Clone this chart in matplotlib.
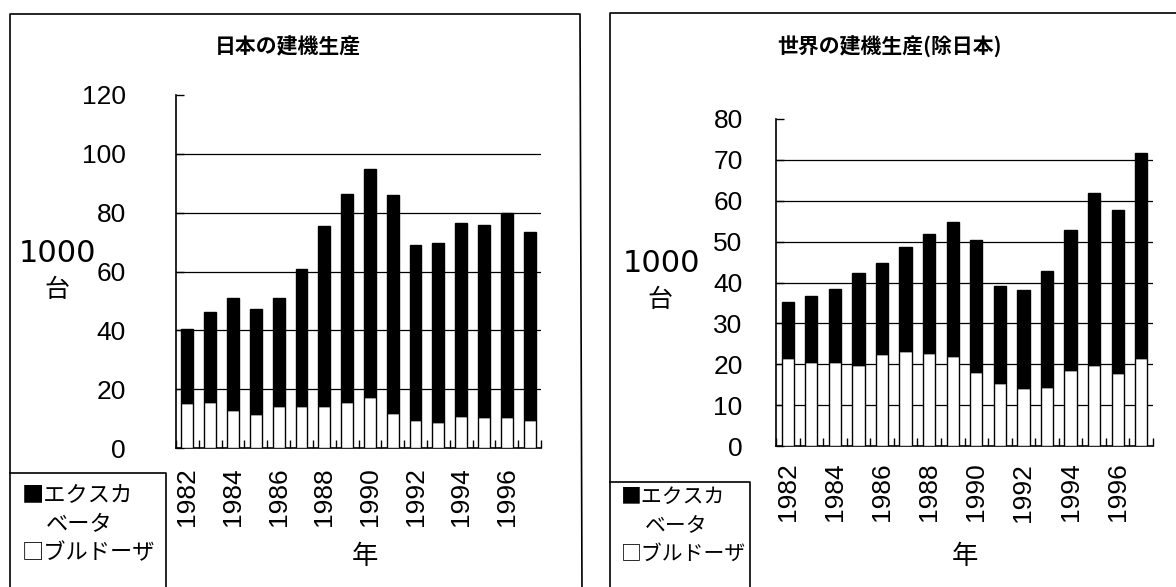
import matplotlib
matplotlib.use("Agg")
import matplotlib.pyplot as plt
from matplotlib.lines import Line2D
import numpy as np

# Production, thousand units
years = list(range(1982, 1998))
year_labels = [str(y) if y % 2 == 0 else "" for y in years]

japan_bulldozer = [15.4, 15.6, 13.0, 11.6, 14.4, 14.4, 14.4, 15.8, 17.3, 11.8, 9.4, 9.0, 10.9, 10.4, 10.4, 9.6]
japan_total = [40.5, 46.3, 51.1, 47.2, 51.1, 61.0, 75.3, 86.5, 95.0, 86.0, 69.0, 69.6, 76.4, 75.7, 80.0, 73.3]
japan_excavator = [t - b for t, b in zip(japan_total, japan_bulldozer)]

world_bulldozer = [21.5, 20.6, 20.5, 19.7, 22.4, 23.3, 22.8, 22.0, 18.2, 15.4, 14.1, 14.4, 18.5, 19.7, 17.8, 21.5]
world_total = [35.2, 36.8, 38.5, 42.3, 44.8, 48.6, 51.9, 54.7, 50.5, 39.2, 38.2, 42.9, 52.8, 61.9, 57.7, 71.8]
world_excavator = [t - b for t, b in zip(world_total, world_bulldozer)]

W, H = 1176, 587
fig = plt.figure(figsize=(W / 100, H / 100), dpi=100)
fig.patch.set_facecolor("white")

NUM = ["Liberation Sans", "DejaVu Sans"]
JP = ["Noto Sans CJK JP", "DejaVu Sans"]


def fx(px):
    return px / W


def fy(py):
    return 1 - py / H


def panel(rect, bulldozer, excavator, ymax, ystep, title, title_xy,
          unit_xy, dai_xy, legend_box, legend_xy, legend_size, nen_xy, ypad, xpad):
    x0, y0, x1, y1 = rect
    ax = fig.add_axes([fx(x0), fy(y1), fx(x1) - fx(x0), fy(y0) - fy(y1)])
    x = np.arange(len(years))
    width = 0.52
    ax.bar(x, bulldozer, width, color="white", edgecolor="black", linewidth=1.0, zorder=3)
    ax.bar(x, excavator, width, bottom=bulldozer, color="black", edgecolor="black",
           linewidth=1.0, zorder=3)

    ax.set_xlim(-0.5, len(years) - 0.5)
    ax.set_ylim(0, ymax)
    yt = np.arange(0, ymax + 0.1, ystep)
    ax.set_yticks(yt)
    ax.set_yticklabels([f"{int(v)}" for v in yt], fontsize=19, family=NUM)
    for v in yt[1:-1]:
        ax.axhline(v, color="black", linewidth=0.9, zorder=1)

    ax.set_xticks(x)
    ax.set_xticklabels(year_labels, rotation=90, fontsize=19, family=NUM)
    ax.set_xticks(np.arange(-0.5, len(years)), minor=True)
    ax.tick_params(axis="x", which="major", length=0, pad=xpad)
    ax.tick_params(axis="x", which="minor", direction="in", length=6, width=1)
    ax.tick_params(axis="y", which="major", direction="in", length=6, width=1, pad=ypad)

    for side in ("top", "right"):
        ax.spines[side].set_visible(False)
    for side in ("left", "bottom"):
        ax.spines[side].set_linewidth(1.2)

    fig.text(fx(title_xy[0]), fy(title_xy[1]), title, ha="center", va="center",
             fontsize=15, fontweight="bold", family=JP)
    fig.text(fx(unit_xy[0]), fy(unit_xy[1]), "1000", ha="center", va="center",
             fontsize=22, family=["DejaVu Sans"])
    fig.text(fx(dai_xy[0]), fy(dai_xy[1]), "台", ha="center", va="center",
             fontsize=18, family=JP)
    fig.text(fx(nen_xy[0]), fy(nen_xy[1]), "年", ha="center", va="center",
             fontsize=19, family=JP)

    # legend box
    lx0, ly0, lx1 = legend_box
    fig.add_artist(Line2D([fx(lx0), fx(lx1), fx(lx1)], [fy(ly0), fy(ly0), fy(H + 5)],
                          transform=fig.transFigure, color="black", linewidth=1.2))
    tx, ty = legend_xy
    fig.text(fx(tx), fy(ty), "■エクスカ", ha="left", va="center",
             fontsize=legend_size, family=JP)
    fig.text(fx(tx + 24), fy(ty + 29), "ベータ", ha="left", va="center",
             fontsize=legend_size, family=JP)
    fig.text(fx(tx), fy(ty + 57), "□ブルドーザ", ha="left", va="center",
             fontsize=legend_size, family=JP)
    return ax


panel((176, 95, 541, 448), japan_bulldozer, japan_excavator, 120, 20,
      "日本の建機生産", (288, 47), (57, 253), (57, 290),
      (10, 473, 166), (22, 496), 16, (365, 557), ypad=36, xpad=14)
panel((776, 119, 1153, 446), world_bulldozer, world_excavator, 80, 10,
      "世界の建機生産(除日本)", (889, 47), (661, 263), (660, 300),
      (610, 482, 750), (621, 497), 15, (965, 557), ypad=24, xpad=12)

# panel frames
fig.add_artist(Line2D([fx(10), fx(10), fx(580), fx(582)], [fy(H + 5), fy(14), fy(14), fy(H + 5)],
                      transform=fig.transFigure, color="black", linewidth=1.2))
fig.add_artist(Line2D([fx(610), fx(610), fx(W + 5)], [fy(H + 5), fy(13), fy(13)],
                      transform=fig.transFigure, color="black", linewidth=1.2))

fig.savefig("out.png", dpi=100)
